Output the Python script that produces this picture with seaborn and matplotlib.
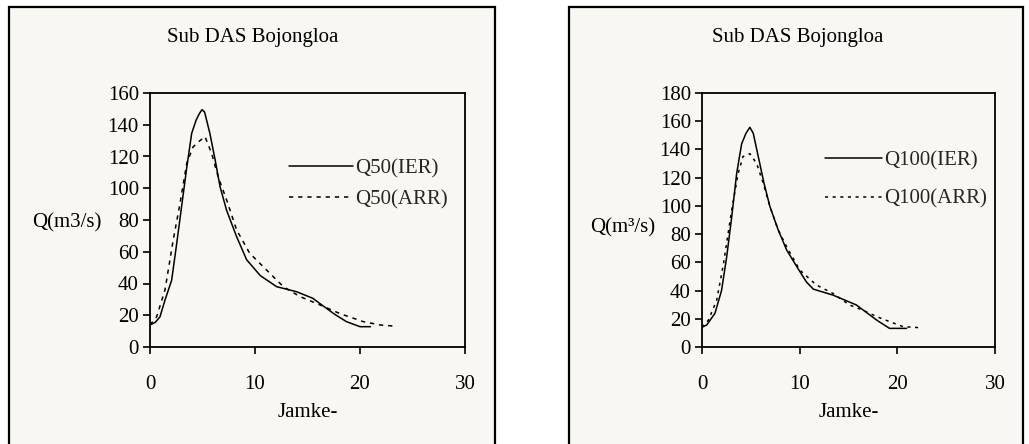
import numpy as np
import pandas as pd
import seaborn as sns
import matplotlib.pyplot as plt
from matplotlib.patches import Rectangle
from matplotlib.lines import Line2D

# Q50 panel (left)
q50_ier_t = [0, 0.5, 0.95, 1.43, 2.06, 2.54, 3.0, 3.5, 3.97, 4.4, 4.7, 4.95, 5.2, 5.7,
             6.2, 6.67, 7.3, 8.25, 9.2, 10.5, 12.06, 13.97, 15.5, 17.5, 18.7, 20.0, 21.0]
q50_ier_q = [13.9, 15.5, 19, 29.6, 42, 65, 88, 113, 134.6, 143, 147, 149.5, 148, 134.6,
             118, 101, 86, 69.5, 55, 45, 38, 34.8, 30.7, 21, 16, 12.8, 12.8]
q50_arr_t = [0, 0.63, 1.43, 2.2, 2.86, 3.5, 4.1, 4.76, 5.24, 5.87, 6.5, 7.3, 8.25,
             9.5, 11.1, 12.7, 14.3, 16.2, 18.1, 20.3, 21.9, 23.2]
q50_arr_q = [13.9, 19, 36, 67, 90.5, 115.7, 126, 130, 132.5, 122, 107, 92.6, 73.7,
             59, 48.5, 38, 31.7, 26.5, 21, 16, 13.9, 13.2]

# Q100 panel (right)
q100_ier_t = [0, 0.48, 1.33, 2.0, 2.53, 3.04, 3.55, 4.06, 4.5, 4.9, 5.25, 5.76, 6.35,
              6.96, 7.8, 8.67, 9.7, 10.7, 11.4, 13.4, 15.8, 17.9, 19.2, 20.95]
q100_ier_q = [14, 15.6, 23.9, 40, 64, 92, 123, 144, 151.4, 155.7, 151.4, 135, 116,
              99.4, 83, 68.7, 57, 46, 41, 36.8, 29.8, 19, 13.2, 13.2]
q100_arr_t = [0, 0.65, 1.5, 2.2, 3.04, 3.7, 4.2, 4.9, 5.6, 6.27, 6.96, 7.8, 8.67,
              10.0, 11.7, 13.4, 15.1, 16.5, 17.9, 19.2, 20.6, 22.3]
q100_arr_q = [14, 19, 33, 59, 97, 123, 135, 137, 130, 116, 99.4, 83, 71,
              54.6, 44, 38, 29.8, 26, 21.5, 18, 14.4, 13.7]

x_ticks = [0, 10, 20, 30]
bg = "#f8f7f2"
fs = 15

sns.set_theme(style="white")
plt.rcParams["font.family"] = ["Liberation Serif", "DejaVu Serif"]
plt.rcParams["axes.facecolor"] = bg

fig = plt.figure(figsize=(10.29, 4.44), dpi=100)
fig.patch.set_facecolor("white")

# outer frames of the two panels
for x0, w in [(9, 486), (569, 454)]:
    fig.patches.append(Rectangle((x0 / 1029, -0.05), w / 1029, 1.05 - 7 / 444,
                                 transform=fig.transFigure, facecolor=bg,
                                 edgecolor="black", linewidth=1.6, zorder=-10))

panels = [
    dict(rect=[150 / 1029, 97 / 444, 315 / 1029, 254 / 444], ymax=160, ystep=20,
         ier=(q50_ier_t, q50_ier_q), arr=(q50_arr_t, q50_arr_q),
         labels=["Q50(IER)", "Q50(ARR)"], ylabel="Q(m3/s)",
         ylab_pos=(-0.265, 0.49), leg_pos=(0.44, 0.74), hl=3.1, ls=0.55,
         dash=(2.8, 3.2)),
    dict(rect=[702 / 1029, 97 / 444, 293 / 1029, 254 / 444], ymax=180, ystep=20,
         ier=(q100_ier_t, q100_ier_q), arr=(q100_arr_t, q100_arr_q),
         labels=["Q100(IER)", "Q100(ARR)"], ylabel="Q(m\u00b3/s)",
         ylab_pos=(-0.272, 0.47), leg_pos=(0.42, 0.772), hl=2.75, ls=0.9,
         dash=(2.0, 3.0)),
]

for p in panels:
    ax = fig.add_axes(p["rect"])
    ax.set_facecolor(bg)
    df_ier = pd.DataFrame({"t": p["ier"][0], "q": p["ier"][1]})
    df_arr = pd.DataFrame({"t": p["arr"][0], "q": p["arr"][1]})
    sns.lineplot(data=df_ier, x="t", y="q", ax=ax, color="black", linewidth=1.1,
                 sort=False, estimator=None)
    sns.lineplot(data=df_arr, x="t", y="q", ax=ax, color="black", linewidth=1.1,
                 sort=False, estimator=None, dashes=False)
    ax.lines[-1].set_dashes(p["dash"])

    ax.set_xlim(0, 30)
    ax.set_ylim(0, p["ymax"])
    ax.set_xticks(x_ticks)
    ax.set_yticks(np.arange(0, p["ymax"] + 1, p["ystep"]))
    for s in ax.spines.values():
        s.set_color("black")
        s.set_linewidth(1.3)
    ax.tick_params(axis="both", which="major", direction="out", length=5, width=1.2,
                   color="black", labelsize=fs, labelcolor="black",
                   bottom=True, left=True)
    ax.tick_params(axis="x", pad=15)
    ax.tick_params(axis="y", pad=3)

    ax.set_xlabel("Jamke-", fontsize=fs, color="black")
    ax.xaxis.set_label_coords(0.5, -0.22)
    ax.set_ylabel(p["ylabel"], fontsize=fs, color="black", rotation=0,
                  ha="center", va="center")
    ax.yaxis.set_label_coords(*p["ylab_pos"])
    ax.text(0.325, 1.22, "Sub DAS Bojongloa", transform=ax.transAxes,
            ha="center", va="center", fontsize=fs, color="black")

    handles = [Line2D([], [], color="black", linewidth=1.1),
               Line2D([], [], color="black", linewidth=1.1, dashes=p["dash"])]
    ax.legend(handles, p["labels"], loc="upper left", bbox_to_anchor=p["leg_pos"],
              frameon=False, fontsize=fs, handlelength=p["hl"], handletextpad=0.1,
              labelspacing=p["ls"], borderaxespad=0, borderpad=0)

fig.savefig("out.png", dpi=100, facecolor="white")
